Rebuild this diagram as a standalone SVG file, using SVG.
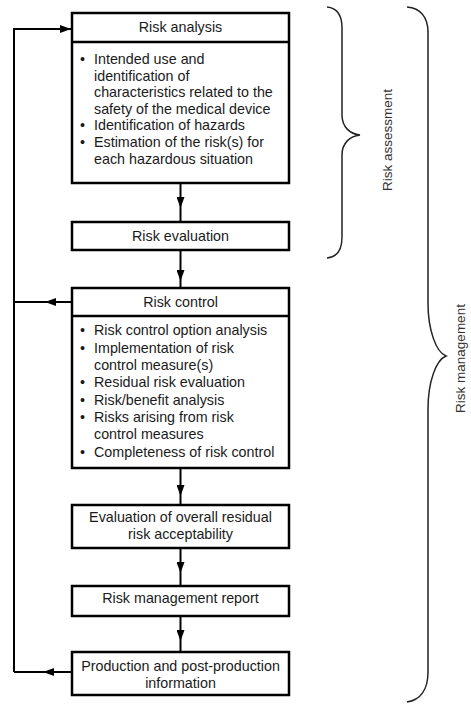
<svg xmlns="http://www.w3.org/2000/svg" width="471" height="704" viewBox="0 0 471 704">
<style>
.box{fill:#fff;stroke:#000;stroke-width:2.5}
.div{stroke:#000;stroke-width:2.5}
.t{font-family:"Liberation Sans",Arial,sans-serif;font-size:14.3px;fill:#1a1a1a}
.c{text-anchor:middle}
.conn{stroke:#000;stroke-width:2;fill:none}
.brace{stroke:#222;stroke-width:1.5;fill:none}
.lbl{font-family:"Liberation Sans",Arial,sans-serif;font-size:13.5px;fill:#333;text-anchor:middle}
</style>
<defs>
<marker id="ah" viewBox="0 0 11 8" refX="11" refY="4" markerWidth="11" markerHeight="8" markerUnits="userSpaceOnUse" orient="auto">
<path d="M0,0 L11,4 L0,8 z" fill="#000"/>
</marker>
</defs>
<rect width="471" height="704" fill="#fff"/>

<g id="connectors">
<path class="conn" d="M180.5,183 L180.5,208 L180.5,222" marker-mid="url(#ah)"/>
<path class="conn" d="M180.5,250 L180.5,281 L180.5,288" marker-mid="url(#ah)"/>
<path class="conn" d="M180.5,468 L180.5,496 L180.5,505" marker-mid="url(#ah)"/>
<path class="conn" d="M180.5,548 L180.5,573 L180.5,586" marker-mid="url(#ah)"/>
<path class="conn" d="M180.5,616 L180.5,641 L180.5,652" marker-mid="url(#ah)"/>
<path class="conn" d="M72,302 L45,302 L14,302" marker-mid="url(#ah)"/>
<path class="conn" d="M72,672 L43,672 L14,672" marker-mid="url(#ah)"/>
<path class="conn" d="M14,672 L14,29 L71,29" marker-end="url(#ah)"/>
</g>

<g id="risk-analysis">
<rect class="box" x="72" y="13" width="217" height="170"/>
<line class="div" x1="72" y1="42" x2="289" y2="42"/>
<text class="t c" x="180.5" y="32">Risk analysis</text>
<text class="t" x="80" y="64">•</text>
<text class="t" x="94" y="64">Intended use and</text>
<text class="t" x="94" y="80.5">identification of</text>
<text class="t" x="94" y="97">characteristics related to the</text>
<text class="t" x="94" y="113.5">safety of the medical device</text>
<text class="t" x="80" y="130">•</text>
<text class="t" x="94" y="130">Identification of hazards</text>
<text class="t" x="80" y="147">•</text>
<text class="t" x="94" y="147">Estimation of the risk(s) for</text>
<text class="t" x="94" y="164">each hazardous situation</text>
</g>

<g id="risk-evaluation">
<rect class="box" x="72" y="222" width="217" height="28"/>
<text class="t c" x="180.5" y="240.5">Risk evaluation</text>
</g>

<g id="risk-control">
<rect class="box" x="72" y="288" width="217" height="180"/>
<line class="div" x1="72" y1="316" x2="289" y2="316"/>
<text class="t c" x="180.5" y="306.5">Risk control</text>
<text class="t" x="80" y="335">•</text>
<text class="t" x="94" y="335">Risk control option analysis</text>
<text class="t" x="80" y="352.5">•</text>
<text class="t" x="94" y="352.5">Implementation of risk</text>
<text class="t" x="94" y="370">control measure(s)</text>
<text class="t" x="80" y="387">•</text>
<text class="t" x="94" y="387">Residual risk evaluation</text>
<text class="t" x="80" y="404.5">•</text>
<text class="t" x="94" y="404.5">Risk/benefit analysis</text>
<text class="t" x="80" y="422">•</text>
<text class="t" x="94" y="422">Risks arising from risk</text>
<text class="t" x="94" y="439">control measures</text>
<text class="t" x="80" y="457">•</text>
<text class="t" x="94" y="457">Completeness of risk control</text>
</g>

<g id="overall-residual">
<rect class="box" x="72" y="505" width="217" height="43"/>
<text class="t c" x="180.5" y="522">Evaluation of overall residual</text>
<text class="t c" x="180.5" y="539">risk acceptability</text>
</g>

<g id="rm-report">
<rect class="box" x="72" y="586" width="217" height="30"/>
<text class="t c" x="180.5" y="603">Risk management report</text>
</g>

<g id="production">
<rect class="box" x="72" y="652" width="217" height="43"/>
<text class="t c" x="180.5" y="671">Production and post-production</text>
<text class="t c" x="180.5" y="688">information</text>
</g>

<g id="risk-assessment-brace">
<path class="brace" d="M327,7 C338,8 342,16 342,28 L342,115 C342,127 350,134 360,135 C350,136 342,143 342,155 L342,237 C342,249 338,257 327,258"/>
<text class="lbl" transform="translate(392,140) rotate(-90)">Risk assessment</text>
</g>

<g id="risk-management-brace">
<path class="brace" d="M407,7 C421,8 428,18 428,32 L428,303 C428,330 436,352 446,356 C436,360 428,382 428,409 L428,672 C428,690 420,700 407,702"/>
<text class="lbl" transform="translate(465,358.5) rotate(-90)">Risk management</text>
</g>
</svg>
